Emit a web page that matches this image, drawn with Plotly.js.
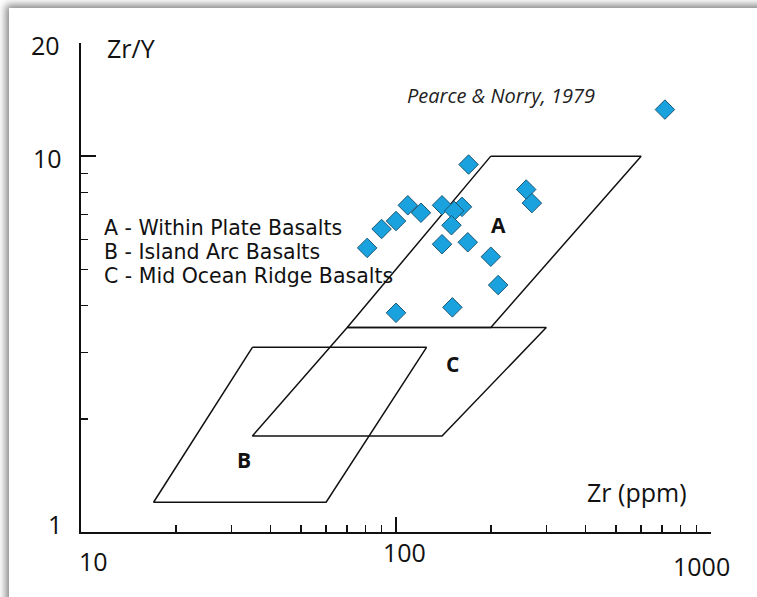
<!DOCTYPE html>
<html>
<head>
<meta charset="utf-8">
<script src="https://cdn.plot.ly/plotly-3.0.1.min.js"></script>
<style>
html,body{margin:0;padding:0;background:#fff;width:757px;height:597px;overflow:hidden;}
#frame{position:absolute;left:9px;top:8px;width:780px;height:620px;background:#fff;box-shadow:0 0 8px 3px rgba(0,0,0,0.5);}
#chart{position:absolute;left:0;top:0;width:757px;height:597px;}
</style>
</head>
<body>
<div id="frame"></div>
<div id="chart"></div>
<script>
// Sample data: Zr (ppm) and Zr/Y
const zr  = [714, 170, 259, 270, 109, 120, 140, 162, 153, 150, 100, 90, 81, 140, 169, 200, 211, 100, 151];
const zrY = [13.3, 9.5, 8.15, 7.5, 7.4, 7.07, 7.4, 7.33, 7.15, 6.55, 6.72, 6.4, 5.7, 5.83, 5.9, 5.4, 4.54, 3.83, 3.96];

// Discrimination fields (Pearce & Norry, 1979)
const fieldA_x = [200, 600, 200, 70, 200];
const fieldA_y = [10, 10, 3.5, 3.5, 10];
const fieldC_x = [70, 300, 140, 35, 70];
const fieldC_y = [3.5, 3.5, 1.8, 1.8, 3.5];
const fieldB_x = [35, 125, 60, 17, 35];
const fieldB_y = [3.1, 3.1, 1.2, 1.2, 3.1];

const fieldLabels = ['A', 'C', 'B'];
const fieldLabelX = [212, 151, 33];
const fieldLabelY = [6.55, 2.8, 1.55];

const legendLines = ['A - Within Plate Basalts', 'B - Island Arc Basalts', 'C - Mid Ocean Ridge Basalts'];

const xTickVals = [10, 100, 1000];
const xTickText = ['10', '100', '1000'];
const xMinor = [20,30,40,50,60,70,80,90,200,300,400,500,600,700,800,900];
const yTickVals = [1, 10, 20];
const yTickText = ['1', '10', '20'];
const yMajor = [1, 10];
const yMinor = [2,3,4,5,6,7,8,9,20];

const lineStyle = {color: '#111', width: 1.5};
const traces = [
  {x: fieldA_x, y: fieldA_y, mode: 'lines', line: lineStyle, hoverinfo: 'skip'},
  {x: fieldC_x, y: fieldC_y, mode: 'lines', line: lineStyle, hoverinfo: 'skip'},
  {x: fieldB_x, y: fieldB_y, mode: 'lines', line: lineStyle, hoverinfo: 'skip'},
  {x: zr, y: zrY, mode: 'markers', cliponaxis: false,
   marker: {symbol: 'diamond', size: 15, color: '#19a2de', line: {color: '#1d5673', width: 1}}}
];

const textFont = 'Open Sans, DejaVu Sans, sans-serif';
const ann = [];
// x tick labels
const xLabelPaperY = [-0.06, -0.04, -0.07];
const xLabelShift = [12, 8, -10];
xTickVals.forEach((v, i) => ann.push({
  x: Math.log10(v), y: xLabelPaperY[i], xref: 'x', yref: 'paper', text: xTickText[i], showarrow: false,
  xanchor: 'center', yanchor: 'middle', xshift: xLabelShift[i], font: {family: textFont, size: 25, color: '#111'}
}));
// y tick labels
const yLabelShiftY = [8, -2, -2];
const yLabelShiftX = [-17, -17, -19];
yTickVals.forEach((v, i) => ann.push({
  x: 0, y: Math.log10(v), xref: 'paper', yref: 'y', text: yTickText[i], showarrow: false,
  xanchor: 'right', yanchor: 'middle', xshift: yLabelShiftX[i], yshift: yLabelShiftY[i], font: {family: textFont, size: 25, color: '#111'}
}));
// axis titles
ann.push({x: 0, y: 1, xref: 'paper', yref: 'paper', text: 'Zr/Y', showarrow: false, xanchor: 'left', yanchor: 'middle',
  xshift: 24, yshift: -5, font: {family: textFont, size: 25, color: '#111'}});
ann.push({x: 1, y: 0, xref: 'paper', yref: 'paper', text: 'Zr (ppm)', showarrow: false, xanchor: 'right', yanchor: 'middle',
  xshift: -22, yshift: 40, font: {family: textFont, size: 25, color: '#111'}});
// reference
ann.push({x: 0.667, y: 0.893, xref: 'paper', yref: 'paper', text: '<i>Pearce &amp; Norry, 1979</i>', showarrow: false,
  xanchor: 'center', yanchor: 'middle', font: {family: textFont, size: 20, color: '#222'}});
// legend text
legendLines.forEach((t, i) => ann.push({
  x: 0, y: 1, xref: 'paper', yref: 'paper', text: t, showarrow: false, xanchor: 'left', yanchor: 'middle',
  borderpad: 0, xshift: 22, yshift: -(185 + 24 * i), font: {family: 'DejaVu Sans, sans-serif', size: 20.5, color: '#111'}
}));
// field labels
fieldLabels.forEach((t, i) => ann.push({
  x: Math.log10(fieldLabelX[i]), y: Math.log10(fieldLabelY[i]), xref: 'x', yref: 'y', text: '<b>' + t + '</b>', showarrow: false,
  xanchor: 'center', yanchor: 'middle', font: {family: textFont, size: 21, color: '#111'}
}));

const layout = {
  width: 757, height: 597,
  margin: {l: 81, r: 46, t: 43, b: 65, pad: 0},
  paper_bgcolor: 'rgba(0,0,0,0)', plot_bgcolor: 'rgba(0,0,0,0)',
  showlegend: false,
  xaxis: {type: 'log', range: [1, 3], showgrid: false, zeroline: false, showline: true, linecolor: '#111', linewidth: 2,
    tickmode: 'array', tickvals: xTickVals, ticktext: xTickText, showticklabels: false, ticks: 'inside', ticklen: 15, tickwidth: 1.5, tickcolor: '#111',
    minor: {tickmode: 'array', tickvals: xMinor, ticks: 'inside', ticklen: 7, tickwidth: 1.5, tickcolor: '#111', showgrid: false}},
  yaxis: {type: 'log', range: [0, Math.log10(20)], showgrid: false, zeroline: false, showline: true, linecolor: '#111', linewidth: 2,
    tickmode: 'array', tickvals: yMajor, showticklabels: false, ticks: 'inside', ticklen: 15, tickwidth: 1.5, tickcolor: '#111',
    minor: {tickmode: 'array', tickvals: yMinor, ticks: 'inside', ticklen: 7, tickwidth: 1.5, tickcolor: '#111', showgrid: false}},
  annotations: ann
};

Plotly.newPlot('chart', traces, layout, {displayModeBar: false, staticPlot: true});
</script>
</body>
</html>
